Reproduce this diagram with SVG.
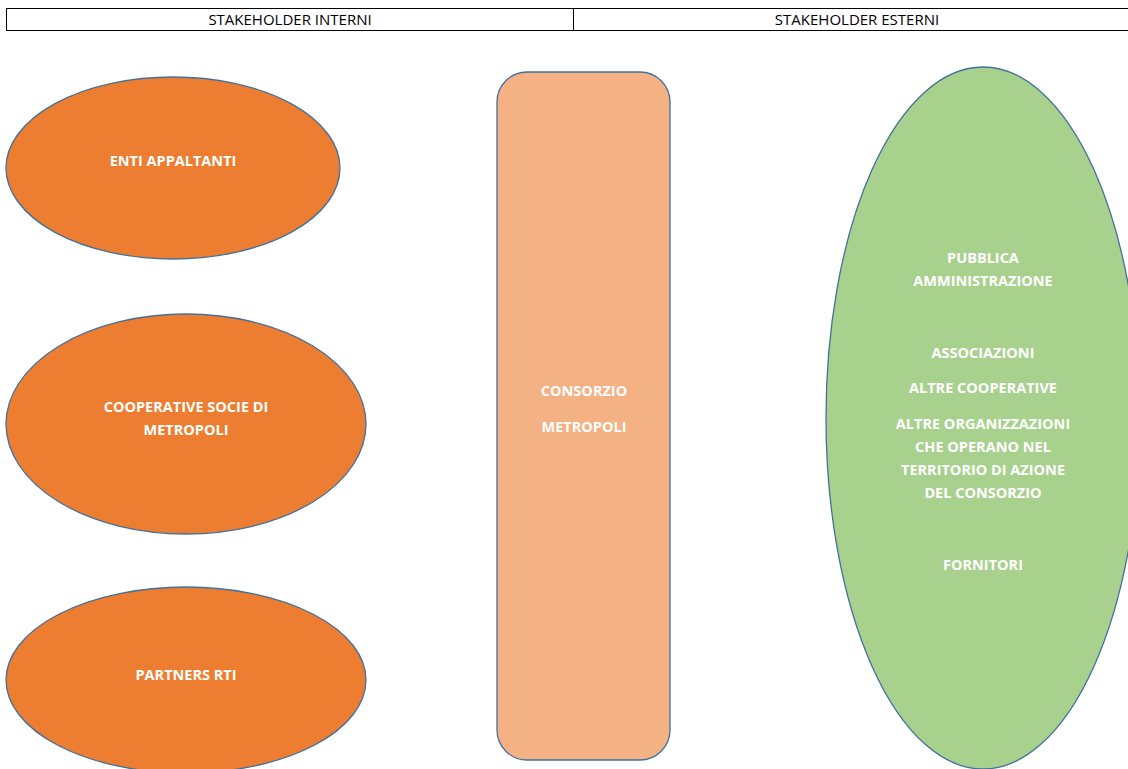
<svg xmlns="http://www.w3.org/2000/svg" width="1128" height="769" viewBox="0 0 1128 769">
<style>
.hdr{fill:#fff;stroke:#000;stroke-width:1}
.ht{font-family:"Open Sans","Liberation Sans",sans-serif;font-size:15px;fill:#000;text-anchor:middle}
.node{stroke:#41719c;stroke-width:1.3}
.lbl{font-family:"Open Sans","Liberation Sans",sans-serif;font-size:14.5px;font-weight:bold;fill:#fff;text-anchor:middle}
</style>
<rect width="1128" height="769" fill="#fff"/>
<g id="header">
<rect class="hdr" x="6.5" y="8.5" width="567" height="22"/>
<rect class="hdr" x="573.5" y="8.5" width="560" height="22"/>
<text class="ht" x="290" y="24.5">STAKEHOLDER INTERNI</text>
<text class="ht" x="857" y="24.5">STAKEHOLDER ESTERNI</text>
</g>
<g id="enti">
<ellipse class="node" cx="173" cy="168" rx="167" ry="91" fill="#ed7d31"/>
<text class="lbl" x="173" y="166">ENTI APPALTANTI</text>
</g>
<g id="cooperative">
<ellipse class="node" cx="186" cy="424" rx="180" ry="110" fill="#ed7d31"/>
<text class="lbl" x="186" y="412">COOPERATIVE SOCIE DI</text>
<text class="lbl" x="186" y="435">METROPOLI</text>
</g>
<g id="partners">
<ellipse class="node" cx="186" cy="680" rx="180" ry="93" fill="#ed7d31"/>
<text class="lbl" x="186" y="680">PARTNERS RTI</text>
</g>
<g id="consorzio">
<rect class="node" x="497" y="72" width="173" height="688" rx="30" fill="#f4b183"/>
<text class="lbl" x="584" y="396">CONSORZIO</text>
<text class="lbl" x="584" y="432">METROPOLI</text>
</g>
<g id="esterni">
<ellipse class="node" cx="983" cy="418" rx="157" ry="351" fill="#a9d18e"/>
<text class="lbl" x="983" y="263">PUBBLICA</text>
<text class="lbl" x="983" y="286">AMMINISTRAZIONE</text>
<text class="lbl" x="983" y="358">ASSOCIAZIONI</text>
<text class="lbl" x="983" y="393">ALTRE COOPERATIVE</text>
<text class="lbl" x="983" y="429">ALTRE ORGANIZZAZIONI</text>
<text class="lbl" x="983" y="452">CHE OPERANO NEL</text>
<text class="lbl" x="983" y="475">TERRITORIO DI AZIONE</text>
<text class="lbl" x="983" y="498">DEL CONSORZIO</text>
<text class="lbl" x="983" y="570">FORNITORI</text>
</g>
<g id="connectors"/>
</svg>
